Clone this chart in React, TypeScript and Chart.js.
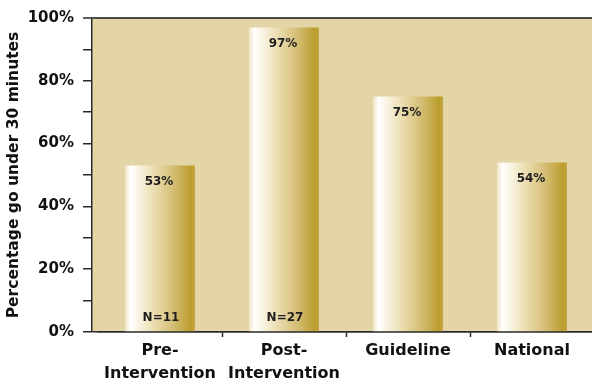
import React, { useEffect, useRef } from "react";
import { Chart, registerables } from "chart.js";

Chart.register(...registerables);

const categories: (string | string[])[] = [
  ["Pre-", "Intervention"],
  ["Post-", "Intervention"],
  "Guideline",
  "National",
];
const percentages = [53, 97, 75, 54];
const sampleSizes: (number | null)[] = [11, 27, null, null];
const yTickValues = [0, 20, 40, 60, 80, 100];
const yTitle = "Percentage go under 30 minutes";

const FONT = "'DejaVu Sans', 'Liberation Sans', sans-serif";
const PLOT_BG = "#E3D5A6";
const AXIS = "#2a2a2a";
const BAR_FRACTION = 0.565;

const plotBackground = {
  id: "plotBackground",
  beforeDraw(chart: any) {
    const { ctx, chartArea } = chart;
    ctx.save();
    ctx.fillStyle = PLOT_BG;
    ctx.fillRect(chartArea.left, chartArea.top, chartArea.right - chartArea.left, chartArea.bottom - chartArea.top);
    ctx.restore();
  },
};

// The category band starts a little inside the value axis and runs slightly past the frame.
const categoryInset = {
  id: "categoryInset",
  afterLayout(chart: any) {
    const xs = chart.scales.x;
    xs.left = chart.chartArea.left + 6;
    xs.right = chart.chartArea.right - 4;
    xs.width = xs.right - xs.left;
    xs.configure();
  },
};

// Horizontal white-to-gold shading across the width of each bar.
function barGradient(context: any) {
  const chart = context.chart;
  const xScale = chart.scales && chart.scales.x;
  if (!chart.chartArea || !xScale || context.dataIndex === undefined) return "#D6C07A";
  const x = xScale.getPixelForValue(context.dataIndex);
  const w = (xScale.width / categories.length) * BAR_FRACTION;
  const g = chart.ctx.createLinearGradient(x - w / 2, 0, x + w / 2, 0);
  g.addColorStop(0, "#EFE5C6");
  g.addColorStop(0.08, "#FFFFFF");
  g.addColorStop(0.35, "#F0E4BE");
  g.addColorStop(0.7, "#D3BC72");
  g.addColorStop(0.94, "#BB9D2C");
  g.addColorStop(1, "#C4A840");
  return g;
}

// Percentage at the top of each bar and sample size at its foot.
const barLabels = {
  id: "barLabels",
  afterDatasetsDraw(chart: any) {
    const { ctx, chartArea } = chart;
    const meta = chart.getDatasetMeta(0);
    ctx.save();
    ctx.fillStyle = "#1e1e1e";
    ctx.font = `bold 12px ${FONT}`;
    ctx.textAlign = "center";
    ctx.textBaseline = "middle";
    meta.data.forEach((bar: any, i: number) => {
      const { x, y } = bar.getProps(["x", "y"], true);
      ctx.fillText(`${percentages[i]}%`, x - 1, y + 16);
      const n = sampleSizes[i];
      if (n !== null) ctx.fillText(`N=${n}`, x + 1, chartArea.bottom - 14);
    });
    ctx.restore();
  },
};

export default function App() {
  const canvasRef = useRef<HTMLCanvasElement | null>(null);

  useEffect(() => {
    const canvas = canvasRef.current;
    if (!canvas) return;
    const chart = new Chart(canvas, {
      type: "bar",
      data: {
        labels: categories,
        datasets: [
          {
            data: percentages,
            backgroundColor: barGradient,
            borderWidth: 0,
            barPercentage: BAR_FRACTION,
            categoryPercentage: 1,
          },
        ],
      },
      options: {
        responsive: false,
        animation: false,
        devicePixelRatio: 1,
        layout: { padding: { top: 17, right: 0, bottom: 0, left: 0 } },
        plugins: {
          legend: { display: false },
          tooltip: { enabled: false },
        },
        scales: {
          x: {
            offset: true,
            grid: {
              offset: true,
              drawOnChartArea: false,
              drawTicks: true,
              tickLength: 5,
              tickColor: (c: any) => (c.index === 0 ? "rgba(0,0,0,0)" : AXIS),
              tickWidth: 1.5,
            },
            border: { display: true, color: AXIS, width: 1.5 },
            ticks: {
              color: "#111",
              font: { family: FONT, size: 16, weight: "bold", lineHeight: 1.4 },
              padding: 3,
              maxRotation: 0,
              autoSkip: false,
            },
            afterFit(scale: any) {
              scale.height = 52;
            },
          },
          y: {
            min: 0,
            max: 100,
            afterBuildTicks(scale: any) {
              const t: { value: number }[] = [];
              for (let v = 0; v <= 100; v += 10) t.push({ value: v });
              scale.ticks = t;
            },
            grid: {
              drawOnChartArea: true,
              drawTicks: true,
              tickLength: 9,
              tickColor: AXIS,
              tickWidth: 1.5,
              color: (c: any) =>
                c.tick && c.tick.value === 100 ? "#4a4a4a" : c.tick && c.tick.value === 0 ? AXIS : "rgba(0,0,0,0)",
              lineWidth: (c: any) => (c.tick && c.tick.value === 100 ? 2 : 1.5),
            },
            border: { display: true, color: AXIS, width: 1.5 },
            ticks: {
              color: "#111",
              font: { family: FONT, size: 15, weight: "bold" },
              padding: 9,
              callback: (v: any) => (yTickValues.includes(Number(v)) ? `${v}%` : ""),
            },
            title: {
              display: true,
              text: yTitle,
              color: "#111",
              font: { family: FONT, size: 15.5, weight: "bold" },
              padding: { top: 5, bottom: 0 },
            },
            afterFit(scale: any) {
              scale.width = 92;
            },
          },
        },
      },
      plugins: [plotBackground, categoryInset, barLabels],
    });
    return () => chart.destroy();
  }, []);

  // The plot runs a few pixels past the right edge of the visible frame.
  return (
    <div style={{ position: "absolute", left: 0, top: 0, width: 592, height: 384, overflow: "hidden", background: "#fff" }}>
      <canvas ref={canvasRef} width={598} height={384} style={{ display: "block" }} />
    </div>
  );
}
